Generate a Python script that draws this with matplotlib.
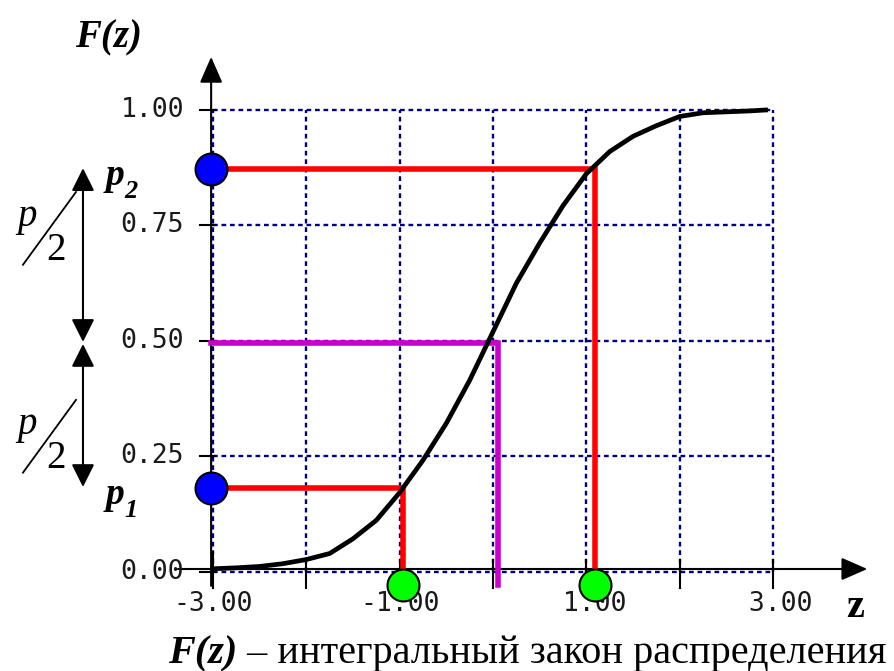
import matplotlib.pyplot as plt

# cumulative distribution curve F(z)
z_curve = [-3.0, -2.75, -2.5, -2.25, -2.0, -1.75, -1.5, -1.25, -1.0, -0.75, -0.5, -0.25,
           0.0, 0.25, 0.5, 0.75, 1.0, 1.25, 1.5, 1.75, 2.0, 2.25, 2.5, 2.75, 2.92]
F_curve = [0.007, 0.009, 0.012, 0.018, 0.027, 0.040, 0.072, 0.112, 0.172, 0.242, 0.322, 0.415,
           0.52, 0.625, 0.712, 0.793, 0.862, 0.910, 0.943, 0.966, 0.986, 0.994, 0.996, 0.998, 1.0]

grid_z = [-3, -2, -1, 0, 1, 2, 3]
grid_F = [0.0, 0.25, 0.5, 0.75, 1.0]
y_labels = ["0.00", "0.25", "0.50", "0.75", "1.00"]
x_label_pos = [-3, -1, 1, 3]
x_labels = ["-3.00", "-1.00", " 1.00", " 3.00"]

# quantile points
z1, F1 = -0.965, 0.182
z2, F2 = 1.093, 0.872
z_med, F_med = 0.055, 0.495

fig = plt.figure(figsize=(8.94, 6.71), dpi=100)
ax = fig.add_axes([0, 0, 1, 1])
ax.set_xlim(-5.282, 4.296)
ax.set_ylim(-0.2143, 1.2381)
ax.axis("off")

grid_kw = dict(color="#000080", lw=1.7, linestyle=(0, (2.0, 1.6)), zorder=1)
for z in grid_z:
    ax.plot([z, z], [0, 1], **grid_kw)
for f in grid_F:
    ax.plot([-3, 3], [f, f], **grid_kw)

# axes with arrows
x_ax_y = 0.0065
y_ax_x = -3.02
ax.annotate("", xy=(4.01, x_ax_y), xytext=(-3.375, x_ax_y),
            arrowprops=dict(arrowstyle="-|>,head_length=0.8,head_width=0.35",
                            lw=1.5, color="black", mutation_scale=20,
                            shrinkA=0, shrinkB=0), zorder=2)
ax.annotate("", xy=(y_ax_x, 1.115), xytext=(y_ax_x, -0.03),
            arrowprops=dict(arrowstyle="-|>,head_length=0.8,head_width=0.35",
                            lw=1.5, color="black", mutation_scale=20,
                            shrinkA=0, shrinkB=0), zorder=2)

# ticks
for f in grid_F:
    ax.plot([-3.139, -2.979], [f, f], color="black", lw=1.5, zorder=2)
for z in grid_z:
    top = 0.044 if z == -3 else 0.026
    ax.plot([z, z], [top, -0.0346], color="black", lw=1.5, zorder=2)

tick_font = dict(family="DejaVu Sans Mono", fontsize=19, color="#1a1a1a")
for f, lab in zip(grid_F, y_labels):
    ax.text(-3.31, f, lab, ha="right", va="center", **tick_font)
for z, lab in zip(x_label_pos, x_labels):
    ax.text(z, -0.069, lab, ha="center", va="center", **tick_font)

# quantile guides
ax.plot([y_ax_x, z1, z1], [F1, F1, 0], color="#ff0000", lw=4, zorder=3,
        solid_joinstyle="miter")
ax.plot([y_ax_x, z2, z2], [F2, F2, 0], color="#ff0000", lw=4, zorder=3,
        solid_joinstyle="miter")
ax.plot([y_ax_x, z_med, z_med], [F_med, F_med, -0.028], color="#cc00cc", lw=4,
        zorder=3, solid_joinstyle="miter")

ax.plot(z_curve, F_curve, color="black", lw=3.4, zorder=4)

ax.plot([y_ax_x, y_ax_x], [F1, F2], "o", ms=23, mfc="#0000ff", mec="black",
        mew=1.5, zorder=5, clip_on=False)
ax.plot([z1, z2], [-0.028, -0.028], "o", ms=23, mfc="#00ff00", mec="black",
        mew=1.5, zorder=5, clip_on=False)

# p/2 arrows on the left
arr_x = -4.393
for lo, hi in [(0.498, 0.874), (0.184, 0.4935)]:
    ax.annotate("", xy=(arr_x, hi), xytext=(arr_x, lo),
                arrowprops=dict(arrowstyle="<|-|>,head_length=0.7,head_width=0.35",
                                lw=1.5, color="black", mutation_scale=20,
                                shrinkA=0, shrinkB=0))

serif = "Liberation Serif"
for f_mid in [0.74, 0.29]:
    ax.text(-4.99, f_mid + 0.03, "p", family=serif, style="italic",
            fontsize=28, ha="center", va="center")
    ax.text(-4.68, f_mid - 0.045, "2", family=serif, fontsize=28,
            ha="center", va="center")
    ax.plot([-4.468, -5.036], [f_mid + 0.0825, f_mid - 0.075], color="black", lw=1.3)

# p1, p2 labels
for f_lab, sub in [(F2, "2"), (F1, "1")]:
    t = ax.text(-4.15, f_lab - 0.034, "p", family=serif, style="italic",
                weight="bold", fontsize=27, ha="left", va="baseline")
    ax.annotate(sub, xy=(1, 0), xycoords=t, xytext=(0, -4),
                textcoords="offset points", family=serif, style="italic",
                weight="bold", fontsize=19, ha="left", va="baseline")

# axis titles
ax.text(-4.479, 1.136, "F(z)", family=serif, style="italic", weight="bold",
        fontsize=28, ha="left", va="baseline")
ax.text(3.78, -0.098, "z", family=serif, weight="bold", fontsize=29,
        ha="left", va="baseline")

cap = fig.text(0.188, -0.002, "F(z)", family=serif, style="italic",
               weight="bold", fontsize=29, ha="left", va="bottom")
ax.annotate(" – интегральный закон распределения", xy=(1, 0), xycoords=cap,
            family=serif, fontsize=29, ha="left", va="bottom")

fig.savefig("out.png", dpi=100)
